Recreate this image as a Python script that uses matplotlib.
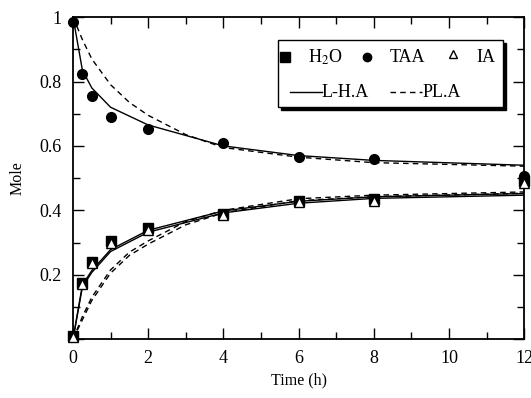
import numpy as np
import matplotlib.pyplot as plt
from matplotlib.patches import Rectangle
from matplotlib.lines import Line2D
from matplotlib.ticker import MultipleLocator, FuncFormatter

plt.rcParams['font.family'] = ['Liberation Serif', 'DejaVu Serif']
plt.rcParams['mathtext.fontset'] = 'stix'

# experimental data
t_exp = [0, 0.25, 0.5, 1, 2, 4, 6, 8, 12]
h2o_exp = [0.01, 0.175, 0.24, 0.305, 0.345, 0.39, 0.43, 0.435, 0.49]
taa_exp = [0.985, 0.823, 0.755, 0.69, 0.652, 0.61, 0.565, 0.56, 0.505]
ia_exp = [0.005, 0.17, 0.235, 0.30, 0.34, 0.385, 0.425, 0.43, 0.485]

# L-H.A model (solid)
t_lha = [0, 0.25, 0.5, 1, 2, 4, 6, 8, 12]
taa_lha = [1.0, 0.835, 0.78, 0.72, 0.665, 0.60, 0.57, 0.555, 0.54]
h2o_lha = [0.0, 0.168, 0.213, 0.278, 0.338, 0.398, 0.428, 0.442, 0.452]
ia_lha = [0.0, 0.162, 0.207, 0.272, 0.332, 0.392, 0.422, 0.437, 0.447]

# PL.A model (dashed)
t_pla = [0, 0.25, 0.5, 1, 1.5, 2, 3, 4, 6, 8, 12]
taa_pla = [1.0, 0.93, 0.87, 0.79, 0.735, 0.695, 0.635, 0.595, 0.565, 0.548, 0.537]
h2o_pla = [0.0, 0.07, 0.13, 0.215, 0.27, 0.305, 0.365, 0.40, 0.436, 0.447, 0.457]
ia_pla = [0.0, 0.06, 0.12, 0.205, 0.26, 0.295, 0.355, 0.392, 0.43, 0.442, 0.453]

fig = plt.figure(figsize=(5.31, 3.98), dpi=100)
ax = fig.add_axes([0.1375, 0.148, 0.8495, 0.809])

lw = 1.0
ax.plot(t_lha, taa_lha, '-', color='black', lw=lw)
ax.plot(t_lha, h2o_lha, '-', color='black', lw=lw)
ax.plot(t_lha, ia_lha, '-', color='black', lw=lw)
ax.plot(t_pla, taa_pla, '--', color='black', lw=lw, dashes=(4, 3))
ax.plot(t_pla, h2o_pla, '--', color='black', lw=lw, dashes=(4, 3))
ax.plot(t_pla, ia_pla, '--', color='black', lw=lw, dashes=(4, 3))

ax.plot(t_exp, h2o_exp, 's', color='black', ms=6.5, clip_on=False, zorder=5)
ax.plot(t_exp, taa_exp, 'o', color='black', ms=7, clip_on=False, zorder=5)
ax.plot(t_exp, ia_exp, '^', mfc='white', mec='black', mew=1.0, ms=6.5,
        clip_on=False, zorder=6)

ax.set_xlim(0, 12)
ax.set_ylim(0, 1)
ax.xaxis.set_major_locator(MultipleLocator(2))
ax.xaxis.set_minor_locator(MultipleLocator(1))
ax.yaxis.set_major_locator(MultipleLocator(0.2))
ax.yaxis.set_minor_locator(MultipleLocator(0.1))
ax.yaxis.set_major_formatter(FuncFormatter(
    lambda v, p: '' if abs(v) < 1e-9 else ('1' if abs(v - 1) < 1e-9 else f'{v:.1f}')))
ax.tick_params(which='both', direction='in', top=True, right=True,
               labelsize=13, width=1.0)
ax.tick_params(which='major', length=8, pad=8)
ax.tick_params(which='minor', length=5)
for s in ax.spines.values():
    s.set_linewidth(1.3)

ax.set_xlabel('Time (h)', fontsize=11.5, labelpad=4)
ax.set_ylabel('Mole', fontsize=11.5, labelpad=10)

# legend box drawn by hand (two rows)
x0, x1, y0, y1 = 0.455, 0.953, 0.720, 0.929
ax.add_patch(Rectangle((x0 + 0.007, y0 - 0.009), x1 - x0, y1 - y0,
                       transform=ax.transAxes, facecolor='black',
                       edgecolor='black', zorder=9))
ax.add_patch(Rectangle((x0, y0), x1 - x0, y1 - y0, transform=ax.transAxes,
                       facecolor='white', edgecolor='black', lw=1.0, zorder=10))
r1, r2 = 0.876, 0.767
fs = 13
ax.add_line(Line2D([0.471], [r1], marker='s', color='black', ms=6.5,
                   transform=ax.transAxes, zorder=11))
ax.text(0.522, r1, 'H$_2$O', transform=ax.transAxes, fontsize=fs,
        va='center', zorder=11)
ax.add_line(Line2D([0.652], [r1], marker='o', color='black', ms=6,
                   transform=ax.transAxes, zorder=11))
ax.text(0.703, r1, 'TAA', transform=ax.transAxes, fontsize=fs,
        va='center', zorder=11)
ax.add_line(Line2D([0.843], [r1 + 0.01], marker='^', mfc='white', mec='black',
                   ms=6, transform=ax.transAxes, zorder=11))
ax.text(0.895, r1, 'IA', transform=ax.transAxes, fontsize=fs,
        va='center', zorder=11)
ax.add_line(Line2D([0.481, 0.552], [r2, r2], color='black', lw=lw,
                   transform=ax.transAxes, zorder=11))
ax.text(0.552, r2, 'L-H.A', transform=ax.transAxes, fontsize=fs,
        va='center', zorder=11)
ax.add_line(Line2D([0.703, 0.774], [r2, r2], color='black', lw=lw,
                   dashes=(4, 3), transform=ax.transAxes, zorder=11))
ax.text(0.774, r2, 'PL.A', transform=ax.transAxes, fontsize=fs,
        va='center', zorder=11)

fig.savefig('out.png', dpi=100)
plt.close(fig)
